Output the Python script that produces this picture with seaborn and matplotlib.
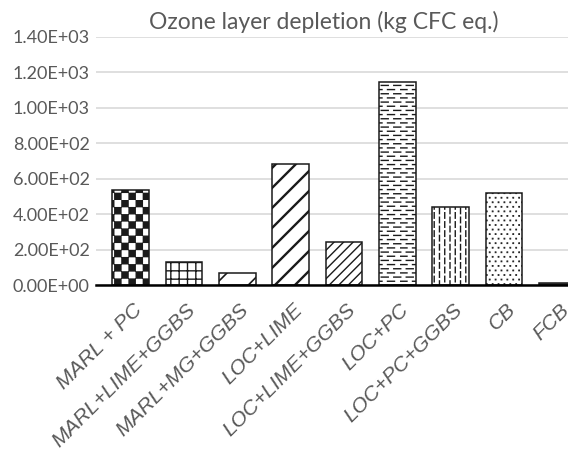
import warnings
import numpy as np
import matplotlib
matplotlib.use("Agg")
import matplotlib.pyplot as plt
import matplotlib.hatch as mhatch
import matplotlib.transforms as mtransforms
from matplotlib.path import Path
import seaborn as sns

warnings.filterwarnings("ignore")

# ---- data ---------------------------------------------------------------
categories = ["MARL + PC", "MARL+LIME+GGBS", "MARL+MG+GGBS", "LOC+LIME",
              "LOC+LIME+GGBS", "LOC+PC", "LOC+PC+GGBS", "CB", "FCB"]
ozone_depletion = [533, 131, 66, 681, 241, 1143, 440, 517, 12]
y_ticks = [0, 200, 400, 600, 800, 1000, 1200, 1400]
title_text = "Ozone layer depletion (kg CFC eq.)"


# ---- extra hatch fills (checker, dashed rows/columns, dots, diagonals) ---
def _segments(segs):
    verts, codes = [], []
    for (x0, y0), (x1, y1) in segs:
        verts += [(x0, y0), (x1, y1)]
        codes += [Path.MOVETO, Path.LINETO]
    return verts, codes


def _squares(rects):
    verts, codes = [], []
    for x0, y0, x1, y1 in rects:
        verts += [(x0, y0), (x1, y0), (x1, y1), (x0, y1), (x0, y0)]
        codes += [Path.MOVETO, Path.LINETO, Path.LINETO, Path.LINETO,
                  Path.CLOSEPOLY]
    return verts, codes


def _checker(n=14, shrink=0.005):
    s = 1.0 / n
    rects = [(i * s + shrink, j * s + shrink, (i + 1) * s - shrink,
              (j + 1) * s - shrink)
             for i in range(n) for j in range(n) if (i + j) % 2 == 0]
    return _squares(rects)


def _wrap(a, length):
    if a + length <= 1.0:
        return [(a, a + length)]
    return [(a, 1.0), (0.0, a + length - 1.0)]


def _hdash(rows=24, per=8, length=0.07):
    segs = []
    p = 1.0 / per
    for r in range(rows):
        y = (r + 0.5) / rows
        off = 0.0 if r % 2 == 0 else p / 2
        for k in range(per):
            for a, b in _wrap(off + k * p, length):
                segs.append(((a, y), (b, y)))
    return _segments(segs)


def _vdash(cols=19, per=11, length=0.055):
    segs = []
    p = 1.0 / per
    for c in range(cols):
        x = (c + 0.5) / cols
        off = 0.0 if c % 2 == 0 else p / 2
        for k in range(per):
            for a, b in _wrap(off + k * p, length):
                segs.append(((x, a), (x, b)))
    return _segments(segs)


def _dots(cols=17, rows=22, size=0.002):
    rects = []
    for r in range(rows):
        y = (r + 0.5) / rows
        off = 0.0 if r % 2 == 0 else 0.5 / cols
        for c in range(cols):
            x = ((c + 0.25) / cols + off) % 1.0
            rects.append((x - size, y - size, x + size, y + size))
    return _squares(rects)


def _diag(n):
    segs = []
    for s in np.linspace(-0.5, 0.5, n + 1):
        segs.append(((0.0 + s, 0.0 - s), (1.0 + s, 1.0 - s)))
    return _segments(segs)


_CUSTOM = {
    "C": _checker(),
    "H": _hdash(),
    "V": _vdash(),
    "D": _dots(),
    "L": _diag(10),
    "S": _diag(21),
}


class _CustomHatch(mhatch.HatchPatternBase):
    def __init__(self, hatch, density):
        self.verts, self.codes = [], []
        for key, (v, c) in _CUSTOM.items():
            if key in hatch:
                self.verts += v
                self.codes += c
        self.num_vertices = len(self.verts)

    def set_vertices_and_codes(self, vertices, codes):
        vertices[:] = np.asarray(self.verts, float)
        codes[:] = np.asarray(self.codes, dtype=codes.dtype)


mhatch._hatch_types.append(_CustomHatch)

bar_hatches = ["C", "++", "/", "L", "S", "H", "V", "D", ""]
hatch_widths = [1.0, 1.0, 1.2, 1.7, 1.0, 1.0, 1.0, 1.0, 1.0]
bar_fills = ["white"] * 8 + ["#5a5a5a"]

# ---- figure -------------------------------------------------------------
sns.set_theme(style="white")
plt.rcParams["font.family"] = ["Lato", "DejaVu Sans"]
plt.rcParams["hatch.linewidth"] = 1.0
plt.rcParams["hatch.color"] = "black"

text_grey = "#595959"
fig = plt.figure(figsize=(5.68, 4.68), dpi=100)
ax = fig.add_axes([96 / 568, 0.391, 1 - 96 / 568, 0.5306])

sns.barplot(x=categories, y=ozone_depletion, hue=categories,
            palette=bar_fills, legend=False, width=0.69,
            edgecolor="#1a1a1a", linewidth=1.1, saturation=1, ax=ax)

for patch, h, hw in zip(ax.patches, bar_hatches, hatch_widths):
    patch.set_hatch(h)
    if hasattr(patch, "set_hatch_linewidth"):
        patch.set_hatch_linewidth(hw)

ax.set_xlim(-0.651, 8.2)
ax.set_ylim(0, 1400)
ax.set_yticks(y_ticks)
ax.set_yticklabels([f"{v:.2E}" for v in y_ticks])
ax.yaxis.grid(True, color="#d9d9d9", linewidth=1.2)
ax.set_axisbelow(True)
for side in ("left", "top", "right"):
    ax.spines[side].set_visible(False)
ax.spines["bottom"].set_color("black")
ax.spines["bottom"].set_linewidth(1.8)
ax.spines["bottom"].set_zorder(5)

ax.tick_params(axis="y", length=0, pad=4.5, labelsize=13,
               labelcolor=text_grey)
ax.tick_params(axis="x", length=0, pad=18.5, labelsize=15.2,
               labelcolor=text_grey)
ax.set_xlabel("")
ax.set_ylabel("")

shift = mtransforms.ScaledTranslation(0.125, 0, fig.dpi_scale_trans)
for lab in ax.get_xticklabels():
    lab.set_rotation(45)
    lab.set_ha("right")
    lab.set_va("baseline")
    lab.set_rotation_mode("anchor")
    lab.set_family(["Liberation Sans", "DejaVu Sans"])
    lab.set_fontstyle("italic")
    lab.set_transform(lab.get_transform() + shift)

fig.text(324 / 568, 1 - 22 / 468, title_text, ha="center", va="center",
         fontsize=16.5, color=text_grey)

fig.savefig("out.png", dpi=100)
